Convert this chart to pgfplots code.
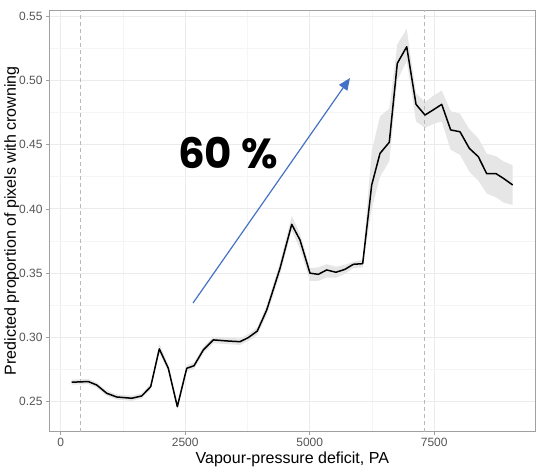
\documentclass[border=0pt]{standalone}
\usepackage{fontspec}
\setmainfont{Liberation Sans}
\newfontfamily\popfont{Poppins}
\usepackage{pgfplots}
\usepackage{pgfplotstable}
\pgfplotsset{compat=1.18}
\usepgfplotslibrary{fillbetween}
\usetikzlibrary{arrows.meta}

\definecolor{bandgray}{HTML}{E6E6E6}
\definecolor{gridmaj}{HTML}{EBEBEB}
\definecolor{gridmin}{HTML}{F5F5F5}
\definecolor{framegray}{HTML}{A0A0A0}
\definecolor{ticktext}{HTML}{555555}
\definecolor{dashgray}{HTML}{B8B8B8}
\definecolor{arrowblue}{HTML}{4472C4}

% predicted proportion with confidence band
\pgfplotstableread{
x y lo hi
221 0.2652 0.2632 0.2672
554 0.2657 0.2637 0.2677
723 0.2630 0.2610 0.2650
924 0.2566 0.2546 0.2586
1124 0.2537 0.2517 0.2557
1426 0.2527 0.2507 0.2547
1627 0.2545 0.2525 0.2565
1807 0.2617 0.2595 0.2640
1980 0.2911 0.2880 0.2950
2161 0.2760 0.2735 0.2790
2342 0.2462 0.2440 0.2485
2530 0.2760 0.2735 0.2785
2677 0.2780 0.2755 0.2805
2864 0.2903 0.2878 0.2928
3065 0.2981 0.2955 0.3005
3333 0.2973 0.2948 0.2998
3600 0.2967 0.2942 0.2992
3767 0.2999 0.2972 0.3026
3948 0.3050 0.3020 0.3080
4137 0.3214 0.3175 0.3250
4404 0.3538 0.3490 0.3585
4639 0.3880 0.3830 0.3945
4805 0.3758 0.3690 0.3810
5006 0.3500 0.3440 0.3540
5173 0.3491 0.3440 0.3545
5341 0.3525 0.3465 0.3570
5528 0.3507 0.3465 0.3550
5709 0.3530 0.3495 0.3565
5876 0.3569 0.3540 0.3590
6064 0.3574 0.3545 0.3605
6245 0.4186 0.4000 0.4450
6412 0.4432 0.4250 0.4720
6598 0.4518 0.4370 0.4780
6759 0.5132 0.5000 0.5280
6948 0.5261 0.5150 0.5400
7135 0.4813 0.4680 0.4900
7315 0.4730 0.4630 0.4830
7480 0.4770 0.4660 0.4880
7651 0.4813 0.4680 0.4920
7831 0.4614 0.4460 0.4760
8018 0.4600 0.4420 0.4740
8205 0.4471 0.4290 0.4620
8386 0.4406 0.4220 0.4550
8554 0.4274 0.4120 0.4430
8741 0.4274 0.4090 0.4410
8888 0.4238 0.4050 0.4370
9076 0.4186 0.4030 0.4340
}\vpd

\begin{document}
\begin{tikzpicture}
\begin{axis}[
    at={(0,0)}, anchor=south west,
    scale only axis,
    width=486.7pt, height=421.7pt,
    xmin=-235, xmax=9538,
    ymin=0.2267, ymax=0.5547,
    xtick={0,2500,5000,7500},
    ytick={0.25,0.30,0.35,0.40,0.45,0.50,0.55},
    minor x tick num=1, minor y tick num=1,
    grid=both,
    major grid style={draw=gridmaj, line width=0.8pt},
    minor grid style={draw=gridmin, line width=0.6pt},
    axis line style={draw=framegray, line width=0.8pt},
    tick align=outside,
    major tick length=3pt, minor tick length=0pt,
    tick style={draw=framegray, line width=0.6pt},
    xtick pos=bottom, ytick pos=left,
    /pgf/number format/assume math mode=true,
    xticklabel style={/pgf/number format/1000 sep={}, font=\fontsize{12}{14}\selectfont, text=ticktext},
    yticklabel style={/pgf/number format/fixed, /pgf/number format/fixed zerofill,
        /pgf/number format/precision=2, font=\fontsize{12}{14}\selectfont, text=ticktext},
    xlabel={Vapour-pressure deficit, PA},
    ylabel={Predicted proportion of pixels with crowning},
    label style={font=\fontsize{16}{18}\selectfont, text=black},
    xlabel style={yshift=2pt},
    ylabel style={yshift=-7pt},
]
\addplot[draw=dashgray, dash pattern=on 4pt off 3pt, line width=0.8pt, forget plot] coordinates {(400,0.2267) (400,0.5547)};
\addplot[draw=dashgray, dash pattern=on 4pt off 3pt, line width=0.8pt, forget plot] coordinates {(7300,0.2267) (7300,0.5547)};
\addplot[draw=none, name path=hi, forget plot] table[x=x, y=hi] {\vpd};
\addplot[draw=none, name path=lo, forget plot] table[x=x, y=lo] {\vpd};
\addplot[fill=bandgray, draw=none, forget plot] fill between[of=hi and lo];
\addplot[black, line width=1.5pt, line join=round] table[x=x, y=y] {\vpd};
\addplot[arrowblue, line width=1.2pt, -{Triangle[length=12pt, width=10pt]}] coordinates {(2657,0.3268) (5809,0.5018)};
\node[font=\popfont\bfseries\fontsize{42}{46}\selectfont] at (axis cs:3359,0.4435) {60 \%};
\end{axis}
\path[use as bounding box] (-49pt,-42.3pt) rectangle (490pt,431.7pt);
\end{tikzpicture}
\end{document}
